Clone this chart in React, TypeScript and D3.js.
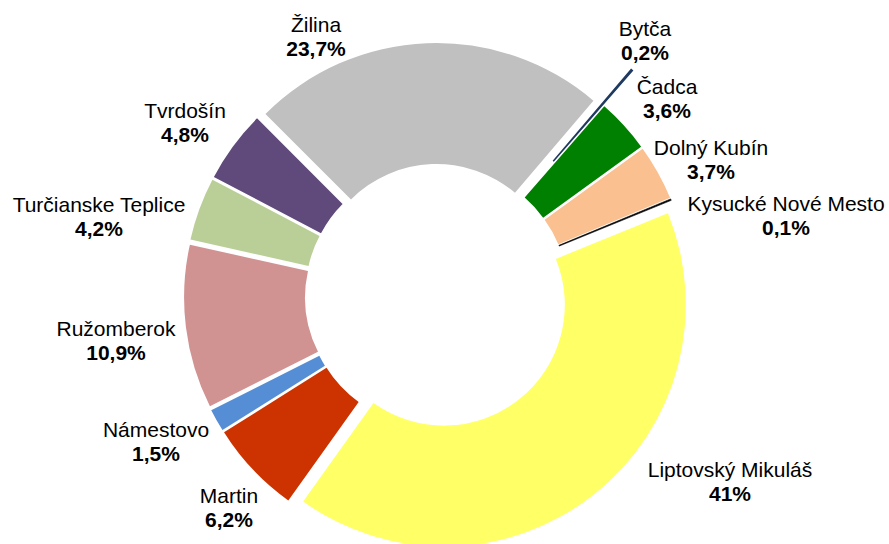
import React from 'react'
import * as d3 from 'd3'

// districts, clockwise from the first slice
const districts = [
  'Žilina',
  'Bytča',
  'Čadca',
  'Dolný Kubín',
  'Kysucké Nové Mesto',
  'Liptovský Mikuláš',
  'Martin',
  'Námestovo',
  'Ružomberok',
  'Turčianske Teplice',
  'Tvrdošín',
]
const shares = [23.7, 0.2, 3.6, 3.7, 0.1, 41, 6.2, 1.5, 10.9, 4.2, 4.8]
const shareLabels = ['23,7%', '0,2%', '3,6%', '3,7%', '0,1%', '41%', '6,2%', '1,5%', '10,9%', '4,2%', '4,8%']

const colors = [
  '#C0C0C0', '#1F3A60', '#008000', '#FAC090', '#000000', '#FFFF66',
  '#CC3300', '#558ED5', '#D19292', '#BACF97', '#604A7B',
]

// label anchors relative to the donut centre (name baseline)
const labelOffsets: [number, number][] = [
  [-121, -264], [208, -260], [230, -202], [274, -141], [349, -85],
  [293, 181], [-208, 207], [-281, 141], [-321, 40], [-338, -84], [-252, -178],
]

const W = 889
const H = 544
const cx = 437
const cy = 296
const outerR = 242
const innerR = 121
const explode = 11
const explodeFar = 57 // the thin Bytča sliver sits further out

export default function App() {
  const pie = d3.pie<number>()
    .sort(null)
    .value(d => d)
    .startAngle(-Math.PI / 4)
    .endAngle(-Math.PI / 4 + 2 * Math.PI)

  const arc = d3.arc<d3.PieArcDatum<number>>()
    .innerRadius(innerR)
    .outerRadius(outerR)

  const slices = pie(shares)
  const font = '"Liberation Sans", Arial, sans-serif'

  return (
    <svg width={W} height={H} style={{ position: 'absolute', left: 0, top: 0, background: '#fff' }}>
      <g transform={`translate(${cx},${cy})`}>
        {slices.map((s, i) => {
          const mid = (s.startAngle + s.endAngle) / 2
          const e = districts[i] === 'Bytča' ? explodeFar : explode
          const dx = Math.sin(mid) * e
          const dy = -Math.cos(mid) * e
          // the 0,1% sliver needs a hairline to show at all
          const thin = shares[i] < 0.15
          return (
            <path
              key={districts[i]}
              d={arc(s) ?? ''}
              transform={`translate(${dx},${dy})`}
              fill={colors[i]}
              stroke={thin ? colors[i] : 'none'}
              strokeWidth={thin ? 0.6 : 0}
            />
          )
        })}
        {districts.map((name, i) => {
          const [lx, ly] = labelOffsets[i]
          return (
            <g key={name} fontFamily={font} fontSize={21} textAnchor="middle" fill="#000">
              <text x={lx} y={ly}>{name}</text>
              <text x={lx} y={ly + 24} fontWeight="bold">{shareLabels[i]}</text>
            </g>
          )
        })}
      </g>
    </svg>
  )
}
